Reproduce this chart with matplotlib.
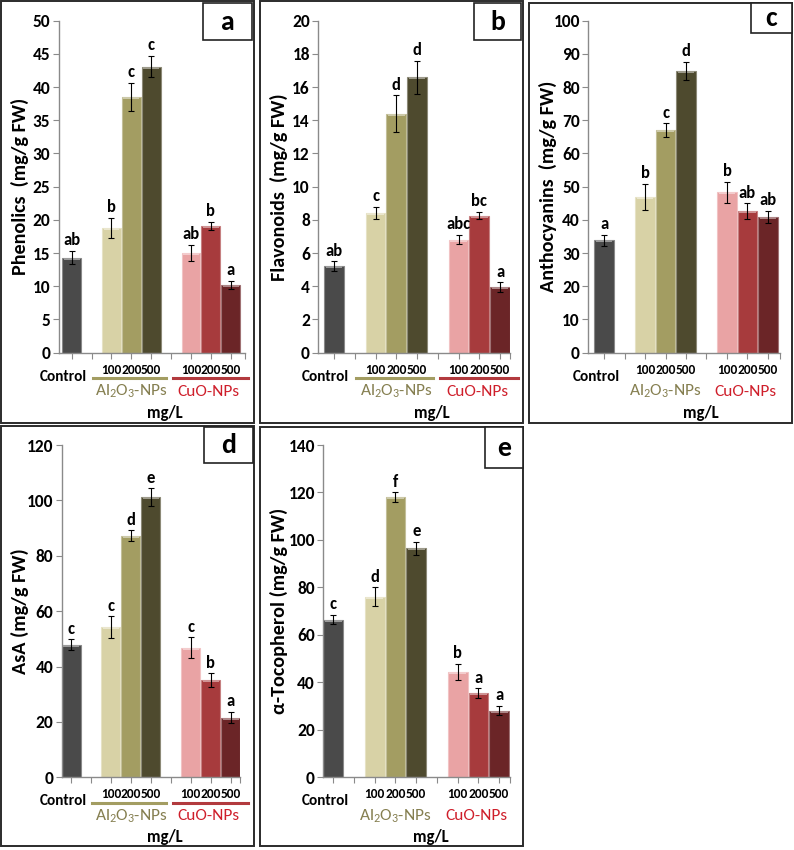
import numpy as np
import matplotlib
matplotlib.use("Agg")
import matplotlib.pyplot as plt
from matplotlib import font_manager
from matplotlib.patches import Rectangle
from matplotlib.lines import Line2D
from matplotlib.transforms import blended_transform_factory, ScaledTranslation

# Carlito is metric-compatible with Calibri (the original Excel font)
names = {f.name for f in font_manager.fontManager.ttflist}
fam = [n for n in ['Carlito', 'Lato', 'DejaVu Sans'] if n in names]
plt.rcParams['font.family'] = fam
plt.rcParams['mathtext.default'] = 'regular'

# ---- data ----
doses = ['100', '200', '500']
group_names = ['Al$_2$O$_3$-NPs', 'CuO-NPs']

phenolics = [14.3, 18.8, 38.5, 43.1, 15.0, 19.1, 10.2]
phenolics_err = [1.0, 1.5, 2.1, 1.6, 1.2, 0.6, 0.6]
phenolics_sig = ['ab', 'b', 'c', 'c', 'ab', 'b', 'a']

flavonoids = [5.2, 8.4, 14.4, 16.6, 6.8, 8.25, 3.95]
flavonoids_err = [0.3, 0.37, 1.1, 1.0, 0.28, 0.22, 0.28]
flavonoids_sig = ['ab', 'c', 'd', 'd', 'abc', 'bc', 'a']

anthocyanins = [33.8, 47.0, 67.1, 84.9, 48.3, 42.7, 41.0]
anthocyanins_err = [1.8, 3.9, 2.0, 2.8, 3.2, 2.3, 1.8]
anthocyanins_sig = ['a', 'b', 'c', 'd', 'b', 'ab', 'ab']

asa = [47.8, 54.2, 87.2, 101.1, 46.8, 35.1, 21.5]
asa_err = [2.0, 3.9, 2.0, 3.2, 3.7, 2.4, 2.0]
asa_sig = ['c', 'c', 'd', 'e', 'c', 'b', 'a']

tocopherol = [66.4, 76.0, 118.0, 96.5, 44.5, 35.4, 28.1]
tocopherol_err = [2.0, 4.0, 2.0, 2.8, 3.4, 2.1, 1.9]
tocopherol_sig = ['c', 'd', 'f', 'e', 'b', 'a', 'a']

bar_colors = ['#4a4a4a', '#d8d2a6', '#a39d62', '#4e4a2e', '#e9a3a4', '#a73b3d', '#6b2527']
olive_txt = '#857f50'
olive_line = '#a39d62'
red_txt = '#cf1f2b'
red_line = '#b23a3e'

W, H = 794, 850
fig = plt.figure(figsize=(W / 100, H / 100), dpi=100)


def frect(l, t, r, b):
    return [l / W, 1 - b / H, (r - l) / W, (b - t) / H]


def lighten(c, f):
    c = np.array(matplotlib.colors.to_rgb(c))
    return tuple(c + (1 - c) * f)


slots = [0, 2, 3, 4, 6, 7, 8]  # control, gap, Al x3, gap, CuO x3


def panel(box, axbox, xlim, ymax, ystep, vals, errs, sig, ylabel, tag, tagbox,
          underline=True):
    # outer frame
    fig.patches.append(Rectangle((box[0] / W, 1 - box[3] / H),
                                 (box[2] - box[0]) / W, (box[3] - box[1]) / H,
                                 transform=fig.transFigure, fill=False,
                                 edgecolor='#2b2b2b', lw=1.4))
    ax = fig.add_axes(frect(*axbox))
    axh = axbox[3] - axbox[1]
    axw = axbox[2] - axbox[0]

    for s, v, c in zip(slots, vals, bar_colors):
        ax.bar(s, v, width=0.95, color=c, edgecolor=lighten(c, 0.35), lw=0.8, zorder=2)
        hh = ymax * 2.0 / axh
        ax.bar(s, hh, bottom=v - hh, width=0.8, color=lighten(c, 0.45), lw=0, zorder=3)
    ax.errorbar(slots, vals, yerr=errs, fmt='none', ecolor='black', elinewidth=0.8,
                capsize=2.5, capthick=0.8, zorder=4)
    for s, v, e, t in zip(slots, vals, errs, sig):
        ax.annotate(t, (s, v + e), xytext=(0, 2), textcoords='offset points',
                    ha='center', va='bottom', fontsize=12, fontweight='bold')

    ax.set_xlim(*xlim)
    ax.set_ylim(0, ymax)
    ticks = np.arange(0, ymax + 0.01, ystep)
    ax.set_yticks(ticks)
    ax.set_yticklabels([f'{t:g}' for t in ticks], fontsize=12.5, fontweight='bold')
    ax.set_xticks(list(range(9)) + [xlim[1]])
    ax.set_xticklabels([])
    ax.tick_params(axis='both', direction='out', length=4, width=0.8, color='#8a8a8a')
    ax.tick_params(axis='y', pad=2)
    for sp in ['top', 'right']:
        ax.spines[sp].set_visible(False)
    for sp in ['left', 'bottom']:
        ax.spines[sp].set_color('#8a8a8a')
        ax.spines[sp].set_linewidth(1.0)
    ax.patch.set_alpha(0)

    ax.set_ylabel(ylabel, fontsize=14.5, fontweight='bold', va='center')
    ax.yaxis.set_label_coords((box[0] + 19 - axbox[0]) / axw, 0.5)

    base = blended_transform_factory(ax.transData, ax.transAxes)

    def below(px):
        return base + ScaledTranslation(0, -px / 100, fig.dpi_scale_trans)

    for s, d in zip(slots[1:], doses * 2):
        ax.text(s, 0, d, transform=below(17), ha='center', va='center',
                fontsize=9.6, fontweight='bold')
    ax.text(-0.4, 0, 'Control', transform=below(24), ha='center', va='center',
            fontsize=11, fontweight='bold')
    if underline:
        ax.add_line(Line2D([1.05, 4.75], [0, 0], transform=below(25.5), color=olive_line,
                           lw=2.2, clip_on=False))
        ax.add_line(Line2D([5.1, 8.85], [0, 0], transform=below(25.5), color=red_line,
                           lw=2.2, clip_on=False))
    ax.text(3, 0, group_names[0], transform=below(39), ha='center', va='center',
            fontsize=12.5, color=olive_txt)
    ax.text(6.9, 0, group_names[1], transform=below(39), ha='center', va='center',
            fontsize=12.5, color=red_txt)
    ax.text(4.7, 0, 'mg/L', transform=below(60), ha='center', va='center',
            fontsize=12, fontweight='bold')

    # panel tag box
    fig.patches.append(Rectangle((tagbox[0] / W, 1 - tagbox[3] / H),
                                 (tagbox[2] - tagbox[0]) / W, (tagbox[3] - tagbox[1]) / H,
                                 transform=fig.transFigure, facecolor='white',
                                 edgecolor='#222222', lw=1.2, zorder=5))
    fig.text((tagbox[0] + tagbox[2]) / 2 / W, 1 - (tagbox[1] + tagbox[3]) / 2 / H, tag,
             ha='center', va='center', fontsize=20, fontweight='bold', zorder=6)
    return ax


panel((1, 1, 254, 423), (58.7, 20.7, 245, 352.7), (-0.655, 8.72), 50, 5,
      phenolics, phenolics_err, phenolics_sig, 'Phenolics  (mg/g FW)', 'a',
      (203, 3, 252, 40))
panel((260, 1, 523, 423), (318.3, 20.7, 510, 352.7), (-0.76, 8.48), 20, 2,
      flavonoids, flavonoids_err, flavonoids_sig, 'Flavonoids  (mg/g FW)', 'b',
      (474, 3, 521, 40))
panel((529, 3, 792, 423), (588.3, 20.7, 780, 352.7), (-0.77, 8.59), 100, 10,
      anthocyanins, anthocyanins_err, anthocyanins_sig, 'Anthocyanins  (mg/g FW)', 'c',
      (751, 3, 792, 33), underline=False)
panel((1, 426, 254, 846), (61.7, 445, 240, 777.3), (-0.47, 8.47), 120, 20,
      asa, asa_err, asa_sig, 'AsA (mg/g FW)', 'd',
      (204, 427, 253, 463))
panel((260, 427, 523, 846), (323.3, 445, 510, 777.3), (-0.48, 8.52), 140, 20,
      tocopherol, tocopherol_err, tocopherol_sig, 'α-Tocopherol (mg/g FW)', 'e',
      (485, 427, 523, 468), underline=False)

fig.savefig('out.png', dpi=100)
